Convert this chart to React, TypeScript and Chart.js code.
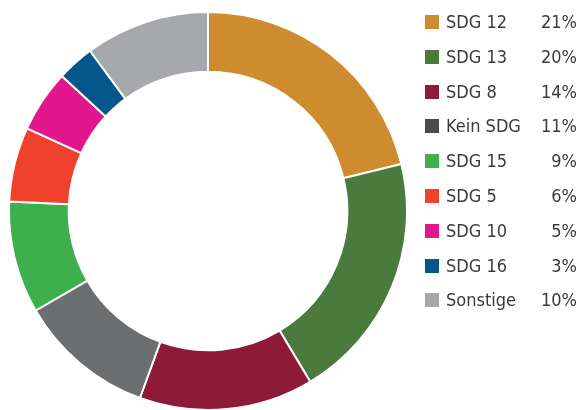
import React, { useEffect, useRef } from "react";
import { Chart, registerables } from "chart.js";

Chart.register(...registerables);

const labels = ["SDG 12", "SDG 13", "SDG 8", "Kein SDG", "SDG 15", "SDG 5", "SDG 10", "SDG 16", "Sonstige"];
const values = [21, 20, 14, 11, 9, 6, 5, 3, 10];
const colors = ["#ce8c2e", "#4a7a3e", "#8e1a38", "#6d6e70", "#3db04b", "#ef412b", "#e0168a", "#05568a", "#a7a8ab"];
const legendColors = ["#ce8c2e", "#4a7a3e", "#8e1a38", "#4b4b4d", "#3db04b", "#ef412b", "#e0168a", "#05568a", "#a7a8ab"];

export default function App() {
  const ref = useRef<HTMLCanvasElement | null>(null);

  useEffect(() => {
    if (!ref.current) return;
    const chart = new Chart(ref.current, {
      type: "doughnut",
      data: {
        labels,
        datasets: [
          {
            data: values,
            backgroundColor: colors,
            borderColor: "#ffffff",
            borderWidth: 2,
          },
        ],
      },
      options: {
        animation: false,
        responsive: false,
        cutout: "70%",
        layout: { padding: 0 },
        plugins: { legend: { display: false }, tooltip: { enabled: false } },
      },
    });
    return () => chart.destroy();
  }, []);

  const font = '"Liberation Sans Narrow", "DejaVu Sans Condensed", "Liberation Sans", sans-serif';

  return (
    <div style={{ position: "absolute", left: 0, top: 0, width: 579, height: 410, background: "#fff", overflow: "hidden" }}>
      <canvas ref={ref} width={400} height={400} style={{ position: "absolute", left: 8, top: 11, width: 400, height: 400 }} />
      {labels.map((l, i) => {
        const cy = 22 + i * 34.8;
        return (
          <div key={l} style={{ position: "absolute", left: 0, top: cy - 12, width: 579, height: 24 }}>
            <div style={{ position: "absolute", left: 425, top: 5, width: 14, height: 14, background: legendColors[i] }} />
            <div style={{ position: "absolute", left: 446, top: 0, lineHeight: "24px", fontSize: 18, fontFamily: font, color: "#3a3a3a", whiteSpace: "nowrap" }}>{l}</div>
            <div style={{ position: "absolute", right: 2, top: 0, lineHeight: "24px", fontSize: 18, fontFamily: font, color: "#3a3a3a", textAlign: "right" }}>{values[i]}%</div>
          </div>
        );
      })}
    </div>
  );
}
